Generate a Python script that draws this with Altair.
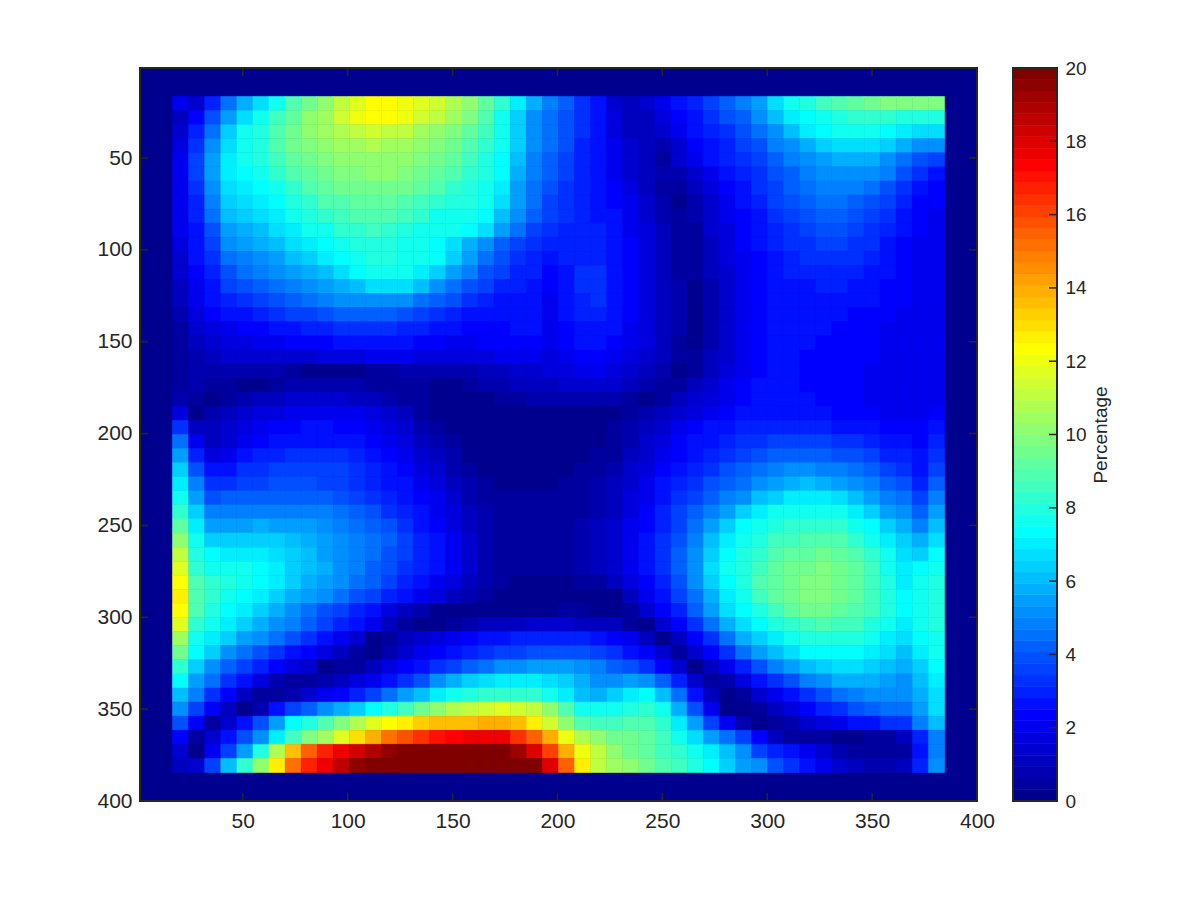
import altair as alt
import numpy as np
import pandas as pd

r00 = [2,1.5,3,4.5,5.8,6.8,7.8,8.8,9.5,10.2,11,11.6,12.2,12.3,12,11.6,11.3,10.8,10.2,9.3,8.2,7,5.7,4.8,4.2,3.4,2.5,1.5,1.1,1.4,1.9,2.5,3,3.5,4.2,4.8,5.5,6.7,7.5,8,8.5,9,9.2,9.5,9.7,9.8,9.8,9.8]
r01 = [1.2,2.4,3.8,5.5,6.8,7.6,8.5,9.3,10,10.6,11.5,12,12.4,12.3,12,11.5,11,10.6,9.8,8.8,7.8,6.5,5.2,4.6,3.9,3.2,2.5,1.7,1.1,1.2,1.6,2.3,2.8,3.3,3.8,4.3,5,6,6.9,7.4,7.8,8.1,8.3,8.4,8.3,8.1,8,8]
r02 = [1.4,2.9,4.5,6.3,7.5,8,8.8,9.5,10,10.5,10.9,11.2,11.3,11.2,11,10.6,10.3,9.8,9.3,8.6,7.7,6.4,5,4.5,3.8,3.2,2.5,1.8,1.2,1,1.4,2.1,2.6,3,3.4,3.9,4.5,5.3,6.1,6.9,7.4,7.6,7.6,7.6,7.3,6.9,6.8,6.7]
r03 = [1.8,3.3,5,6.8,7.6,8.1,8.8,9.4,9.8,10.2,10.5,10.6,10.7,10.6,10.4,10.2,9.8,9.4,8.9,8.3,7.6,6.3,5,4.4,3.8,3.1,2.5,1.9,1.4,1.1,.7,1.4,2.2,2.8,3.1,3.6,4,4.7,5.3,5.9,6.3,6.6,6.7,6.6,6.4,5.8,5.2,5]
r04 = [2,3.5,5.4,7,7.6,8,8.6,9.1,9.5,9.9,10.2,10.3,10.3,10.3,10.1,9.9,9.5,9.1,8.5,8,7.4,6.1,4.8,4.2,3.7,3.1,2.5,1.9,1.4,1.1,.6,1.3,2.1,2.6,2.9,3.3,3.7,4.3,4.8,5.3,5.6,5.8,5.9,5.8,5.3,4.6,3.9,3.6]
r05 = [2,3.5,5.5,7,7.4,7.7,8.2,8.8,9.2,9.6,9.8,9.9,10,10,9.8,9.6,9.2,8.8,8.2,7.9,7.2,5.9,4.9,4.1,3.5,3,2.5,1.9,1.5,1.2,.7,.8,1.5,2.1,2.5,2.9,3.3,3.9,4.3,4.8,5.1,5.3,5.3,5.1,4.7,3.9,3.2,2.8]
r06 = [2,3.4,5.3,6.8,7.1,7.4,7.8,8.4,8.8,9.3,9.5,9.6,9.6,9.6,9.4,9.2,8.8,8.4,8.1,7.8,6.9,5.5,4.4,3.9,3.4,3,2.6,2.2,1.8,1.2,.6,.4,1,1.7,2.2,2.7,3.2,3.7,4.1,4.5,4.7,4.8,4.7,4.5,3.9,3.2,2.6,2.3]
r07 = [2,3.1,4.8,6.4,6.8,7.1,7.4,7.9,8.4,8.8,9,9.2,9.2,9.1,9,8.7,8.4,8,7.9,7.6,6.6,5.4,4.4,3.7,3.3,3,2.7,2.3,1.9,1.3,.7,.3,.9,1.5,2,2.5,3,3.5,3.8,4.1,4.4,4.4,4.3,4,3.5,2.9,2.4,2.2]
r08 = [2,2.9,4.4,6,6.4,6.7,7,7.5,8,8.3,8.6,8.8,8.9,8.8,8.6,8.2,7.8,7.6,7.5,7.3,6.2,5,4.1,3.5,3.2,3,2.8,2.5,2,1.5,.8,.4,.7,1.4,1.9,2.4,2.8,3.3,3.6,3.9,4.1,4.1,4,3.7,3.2,2.7,2.3,2.1]
r09 = [1.9,2.8,4,5.5,5.9,6.2,6.6,7,7.5,7.8,8.2,8.4,8.5,8.4,8.1,7.7,7.5,7.5,7.4,6.6,5.6,4.6,3.7,3.3,3.1,3,2.9,2.6,2.1,1.6,1,.4,.6,1.3,1.8,2.3,2.6,3.1,3.4,3.7,3.8,3.8,3.7,3.4,2.9,2.5,2.2,2.1]
r10 = [1.7,2.7,3.6,5,5.4,5.7,6.2,6.6,7,7.4,7.7,7.9,8.1,8,7.7,7.6,7.2,6.6,5.9,5,4.3,3.7,3.3,3,3,3,3,2.7,2.2,1.7,1.1,.4,.6,1.2,1.7,2.2,2.5,2.9,3.2,3.4,3.5,3.5,3.4,3.2,2.8,2.4,2.1,2]
r11 = [1.5,2.5,3.3,4.5,4.9,5.2,5.6,6,6.5,6.9,7.2,7.6,7.9,7.9,7.8,7.6,7.2,6.3,5.4,4.6,3.9,3.4,3.1,2.6,2.9,3.1,3.1,2.8,2.3,1.8,1.2,.5,.5,1.1,1.6,2.1,2.4,2.8,3,3.2,3.3,3.3,3.2,3,2.7,2.4,2.1,2]
r12 = [1.3,2.3,3,4,4.4,4.7,5,5.4,5.9,6.2,6.6,7.2,7.6,7.6,7.5,7,6.3,5.5,4.8,4,3.5,3.1,2.9,2.4,2.8,3.2,3.2,2.8,2.3,1.8,1.2,.6,.4,1,1.5,2,2.4,2.7,2.9,3,3.1,3.1,3,2.8,2.6,2.3,2.1,2]
r13 = [1.2,2.1,2.7,3.5,3.8,4.1,4.4,4.8,5.2,5.5,5.8,6.2,6.6,6.8,6.6,6.1,5.2,4.5,3.9,3.5,3.1,2.9,2.8,2.2,2.7,3.2,3.3,2.8,2.3,1.8,1.2,.7,.3,.9,1.4,2,2.4,2.6,2.7,2.8,2.9,2.9,2.8,2.6,2.4,2.2,2.1,2]
r14 = [1,1.9,2.5,3.1,3.3,3.6,3.8,4.2,4.5,4.8,5,5.2,5.3,5.3,5,4.6,4.2,3.8,3.4,3,2.8,2.7,2.7,2.1,2.6,3.1,3.2,2.7,2.3,1.8,1.2,.7,.3,.9,1.4,1.9,2.3,2.5,2.6,2.7,2.7,2.7,2.6,2.5,2.3,2.2,2.1,2]
r15 = [.8,1.6,2.2,2.6,2.8,3,3.2,3.5,3.7,4,4.1,4.3,4.3,4.3,4,3.7,3.4,3.1,2.8,2.6,2.5,2.5,2.6,2.1,2.5,3,3,2.6,2.2,1.7,1.2,.7,.3,.9,1.4,1.9,2.3,2.5,2.5,2.6,2.6,2.5,2.4,2.3,2.2,2.1,2,2]
r16 = [.6,1.3,1.8,2.1,2.2,2.4,2.6,2.8,3,3.1,3.3,3.4,3.4,3.3,3.1,2.9,2.7,2.5,2.4,2.3,2.4,2.5,2.7,2,2.4,2.8,2.8,2.5,2.1,1.7,1.2,.7,.3,.9,1.4,1.9,2.3,2.5,2.5,2.5,2.5,2.4,2.3,2.2,2.1,2.1,2,2]
r17 = [.5,1,1.5,1.7,1.8,1.9,2.1,2.2,2.3,2.4,2.5,2.6,2.6,2.6,2.5,2.3,2.2,2.1,2.1,2.2,2.3,2.4,2.2,1.9,2.2,2.5,2.5,2.3,2,1.6,1.1,.6,.3,.9,1.4,1.9,2.3,2.5,2.5,2.5,2.4,2.4,2.3,2.2,2.1,2.1,2,2]
r18 = [.4,.8,1.1,1.3,1.3,1.4,1.5,1.5,1.5,1.6,1.7,1.8,1.9,1.9,1.9,1.8,1.7,1.6,1.6,1.8,1.9,2,1.9,1.8,2,2.2,2.2,2.1,1.8,1.4,1,.5,.4,1,1.5,2,2.3,2.5,2.5,2.4,2.4,2.3,2.3,2.2,2.1,2,2,2]
r19 = [.4,.8,.9,.9,.8,.8,.7,.5,.3,.2,.2,.2,.5,.6,.7,.7,.7,.7,.8,1,1.2,1.4,1.5,1.6,1.7,1.9,1.9,1.8,1.5,1.2,.7,.3,.6,1.2,1.7,2.1,2.4,2.5,2.5,2.4,2.3,2.3,2.2,2.1,2,2,1.9,1.9]
r20 = [.4,.7,.4,.4,.3,.3,.5,.7,.8,.8,.8,.7,.5,.4,.4,.4,.3,.3,.5,.7,.9,1,1.1,1.2,1.3,1.4,1.4,1.3,1.1,.8,.4,.4,1,1.5,1.9,2.2,2.5,2.6,2.5,2.4,2.3,2.3,2.2,2.1,2,2,1.9,1.9]
r21 = [.8,.4,.3,.6,.9,1,1.1,1.3,1.3,1.3,1.3,1.2,1,.8,.6,.4,.2,.2,.2,.3,.5,.6,.7,.7,.8,.9,.9,.8,.6,.3,.5,1,1.4,1.8,2.1,2.3,2.6,2.6,2.6,2.5,2.4,2.3,2.2,2.1,2,2,1.9,2]
r22 = [1.8,.3,.9,1,1.3,1.6,1.8,2,2,2,2,1.9,1.6,1.3,1,.6,.3,.1,.1,.1,.2,.2,.3,.3,.3,.3,.3,.3,.5,.9,1.2,1.5,1.8,2.1,2.3,2.5,2.7,2.7,2.7,2.6,2.5,2.4,2.3,2.2,2.1,2,2,2.2]
r23 = [3.2,1.2,1.1,1.3,1.7,2,2.2,2.4,2.5,2.5,2.4,2.3,2,1.7,1.3,.9,.6,.2,.1,.1,.1,.1,.1,.2,.2,.2,.3,.4,.7,1,1.5,1.9,2.2,2.5,2.7,2.9,3,3.1,3.1,3.1,3,2.8,2.7,2.5,2.3,2.2,2.2,2.6]
r24 = [4.5,2,1.2,1.5,2,2.3,2.5,2.7,2.8,2.8,2.7,2.6,2.3,2,1.6,1.2,.8,.5,.2,.1,.1,.1,.1,.1,.1,.2,.3,.5,.9,1.3,1.8,2.2,2.5,2.8,3,3.2,3.4,3.6,3.7,3.7,3.6,3.4,3.2,3,2.7,2.5,2.3,3]
r25 = [5.5,3,1.8,2,2.5,2.9,3,3.2,3.2,3.2,3.2,3,2.7,2.4,2,1.5,1.1,.7,.3,.2,.1,.1,.1,.1,.1,.2,.4,.6,1,1.5,2,2.4,2.7,3.1,3.4,3.6,3.9,4.1,4.2,4.3,4.2,4,3.8,3.5,3.1,2.9,2.5,3.3]
r26 = [6.3,3.9,2.6,2.8,3.2,3.4,3.5,3.6,3.6,3.6,3.5,3.3,3,2.7,2.3,1.8,1.4,.9,.5,.2,.2,.2,.2,.2,.3,.4,.5,.8,1.3,1.7,2.2,2.7,3,3.4,3.8,4.1,4.5,4.8,5,5,4.9,4.7,4.4,4.1,3.6,3.3,2.8,3.7]
r27 = [7,4.8,3.2,3.4,3.6,3.7,3.8,3.8,3.8,3.7,3.5,3.3,3.1,2.8,2.5,2.1,1.6,1.2,.7,.4,.3,.3,.3,.3,.4,.5,.7,1,1.5,1.9,2.5,2.9,3.3,3.8,4.3,4.6,5.2,5.6,5.9,6,5.9,5.6,5.2,4.7,4.1,3.8,3,4.2]
r28 = [7.6,5.5,4,4.1,4.2,4.3,4.3,4.3,4.3,4.2,4,3.7,3.4,3.1,2.8,2.4,1.9,1.4,.9,.6,.4,.4,.4,.4,.5,.6,.8,1.1,1.6,2.1,2.7,3.2,3.7,4.2,4.8,5.3,6,6.5,6.9,7,6.9,6.6,6.1,5.5,4.7,4.4,3.5,4.8]
r29 = [8.4,6.3,4.8,4.8,4.8,4.9,4.9,4.9,4.8,4.7,4.5,4.1,3.8,3.4,3,2.6,2.1,1.6,1,.7,.5,.4,.4,.5,.5,.6,.9,1.2,1.8,2.3,2.9,3.5,4.1,4.8,5.6,6.3,7.1,7.5,7.7,7.8,7.8,7.5,7.1,6.5,5.5,5,4.2,5.5]
r30 = [9.3,7,5.6,5.6,5.6,5.7,5.6,5.5,5.4,5.2,4.9,4.6,4.2,3.8,3.3,2.8,2.3,1.7,1.2,.8,.5,.5,.5,.5,.5,.7,1,1.3,1.9,2.4,3,3.7,4.5,5.4,6.5,7.2,7.7,8,8.2,8.4,8.4,8.2,7.8,7.3,6.3,5.7,4.9,6.2]
r31 = [10.2,7.5,6.3,6.3,6.4,6.4,6.3,6.1,5.8,5.6,5.2,4.9,4.5,4.1,3.6,3,2.5,1.9,1.3,.8,.5,.5,.5,.5,.6,.7,1,1.4,2,2.5,3.2,3.9,4.8,6,7,7.6,8.1,8.5,8.7,8.9,9,8.8,8.4,7.8,7,6.3,5.7,6.8]
r32 = [11,8,7.2,7.1,7,6.9,6.7,6.3,6,5.6,5.2,4.8,4.4,4,3.5,3,2.6,2,1.3,.9,.6,.5,.5,.5,.6,.8,1,1.5,2.1,2.6,3.3,4.1,5,6.4,7.4,7.9,8.4,8.8,9.1,9.3,9.4,9.2,8.8,8.2,7.5,6.8,6.5,7.3]
r33 = [11.8,8.4,7.8,7.7,7.5,7.3,7,6.5,6.1,5.7,5.2,4.7,4.3,3.9,3.4,2.9,2.6,2,1.3,.9,.6,.4,.4,.4,.5,.7,1,1.4,2,2.6,3.3,4.2,5.2,6.6,7.5,8.1,8.7,9.1,9.5,9.6,9.7,9.5,9.1,8.5,7.8,6.9,7.4,7.8]
r34 = [12.3,8.8,8.3,8,7.7,7.3,6.9,6.4,5.9,5.4,5,4.5,4.1,3.6,3.1,2.6,2.1,1.7,1.2,.7,.4,.3,.3,.3,.3,.4,.6,1.1,1.8,2.3,3.1,4,5,6.3,7.4,8.1,8.8,9.2,9.6,9.8,9.8,9.6,9.2,8.7,8,7.1,7.6,8]
r35 = [12.5,9,8.3,7.8,7.3,6.9,6.4,5.9,5.4,5,4.5,4,3.6,3.1,2.6,2.1,1.6,1.2,.9,.5,.2,.1,.1,.1,.1,.1,.1,.3,1.2,1.9,2.7,3.6,4.6,5.9,7,7.8,8.5,9.1,9.5,9.7,9.8,9.6,9.2,8.7,8.1,7.3,7.7,8.1]
r36 = [12.3,8.8,8.1,7.4,6.9,6.5,5.8,5,4.6,4,3.5,3,2.5,1.8,1.2,.7,.3,.2,.1,.1,.1,.1,.2,.3,.4,.4,.3,.2,.4,1.3,2.2,3,4.1,5.4,6.6,7.3,8,8.7,9.1,9.4,9.4,9.3,9,8.5,8,7.2,7.6,8.1]
r37 = [11.6,8.3,7.6,7.1,6.5,5.9,5.3,4.7,4.2,3.7,3.1,2.5,1.9,1.1,.4,.1,.3,.6,.8,1,1.1,1.2,1.3,1.3,1.3,1.2,1.1,1,.6,.3,1.4,2.4,3.3,4.6,5.8,6.7,7.3,7.9,8.4,8.7,8.8,8.7,8.5,8.1,7.6,7,7.5,8.1]
r38 = [10.5,7.7,7,6.3,5.6,5,4.4,3.8,3.3,2.7,2,1.4,.3,.5,1,1.4,1.8,2.1,2.3,2.5,2.7,2.9,3,3,3,2.9,2.7,2.3,1.9,1.2,.3,1.1,2.3,3.4,4.6,5.7,6.4,7,7.5,7.9,8.1,8,7.9,7.6,7.1,6.7,7.3,7.8]
r39 = [9.5,7.2,6.3,5.3,4.5,4,3.4,2.8,2.2,1.6,1,.4,.3,.9,1.4,1.9,2.3,2.7,3,3.2,3.5,3.7,4,4,4,3.8,3.6,3.2,2.7,2.2,1.3,.4,1.3,2.3,3.4,4.5,5.4,6,6.7,7.2,7.4,7.4,7.3,7,6.6,6.2,6.9,7.5]
r40 = [8.3,6.4,5.3,4.3,3.5,3,2.4,1.8,1.3,.3,.4,.5,1.1,1.7,2.2,2.7,3.2,3.7,4.2,4.5,5,5.3,5.5,5.5,5.4,5.2,4.8,4.3,3.8,3.2,2.4,1.4,.3,1.1,2.1,3,3.9,4.8,5.4,6.1,6.5,6.7,6.6,6.4,6,5.7,6.5,7.2]
r41 = [7.3,5.6,4.4,3.3,2.5,1.7,.9,.4,.5,.9,1.2,1.6,2,2.6,3.2,4,5,5.8,6.4,6.8,7,7.1,7,6.8,6.4,5.7,5.3,5.3,5.4,5.2,4.2,2.9,1.3,.4,.9,1.6,2.6,3.3,4,4.8,5.3,5.7,5.9,5.8,5.5,5.3,6.2,7]
r42 = [6.2,4.7,3.4,2.2,1,.4,.5,.9,1.4,1.9,2.4,2.9,3.5,4.5,5.4,6.2,6.9,7.5,7.9,8.2,8.3,8.4,8.2,7.7,7,6,5.9,6.4,7,7.4,6.2,4.5,2.8,1,.3,.6,1.3,2,2.7,3.3,3.9,4.5,4.9,5.1,5,5,5.9,6.8]
r43 = [5,3.6,2.4,1,.3,.8,2.5,3.5,4.3,5,5.7,6.5,7.3,8,8.7,9.5,10.2,10.7,11.2,11.5,11.6,11.5,11,10,9,7.8,7.6,7.8,8.1,8.3,7.5,5.9,4,2,.3,.2,.6,1.2,1.8,2.3,2.9,3.4,3.9,4.2,4.4,4.6,5.6,6.6]
r44 = [3.8,2.2,.4,1.3,2.7,4,5.6,7.2,8,9,9.8,10.8,11.8,12.4,12.8,13.2,13.5,13.6,13.7,13.8,13.8,13.6,12.8,11.5,10,8.9,8.5,8.6,8.9,8.9,8.2,7,5.4,3.5,1.9,.9,.2,.4,.9,1.3,1.8,2.1,2.5,2.8,3.2,3.4,4.8,6]
r45 = [2.4,.5,1.5,2.6,3.8,5,7,8.7,9.7,10.6,11.8,13,14,15,15.7,16.4,17,17.3,17.5,17.5,17.5,16.5,15.5,13.8,12,10.8,10,9.5,9.4,9.2,8.7,7.8,6.7,5.5,4.5,3.6,2.3,1.1,.5,.6,.5,.2,.3,.4,.5,1.2,3,4.8]
r46 = [1.5,.3,2,3.5,5.5,8,10.8,13.5,15.5,16.8,17.5,18.3,19,19.5,20,20,20,20,20,20,20,19.2,18,16,14,12,11,10,9.5,9.2,8.7,8.2,7.6,7,6,5.2,3.5,3,2.6,2,1.4,.8,.6,.5,.4,.5,2.8,4.7]
r47 = [1,1.5,3.5,6,8.2,10,12.8,15,16.7,17.7,18.7,19.5,20,20,20,20,20,20,20,20,20,20,20,18,15.5,12.6,11.2,10.5,10,9.4,9,8.5,7.9,7.3,6.5,5.5,5,4,3.4,2.6,2,1.5,1,.7,.8,1.2,3,5]

rows = [r00,r01,r02,r03,r04,r05,r06,r07,r08,r09,r10,r11,r12,r13,r14,r15,r16,r17,r18,r19,r20,r21,r22,r23,
        r24,r25,r26,r27,r28,r29,r30,r31,r32,r33,r34,r35,r36,r37,r38,r39,r40,r41,r42,r43,r44,r45,r46,r47]

axis_ticks = [50, 100, 150, 200, 250, 300, 350, 400]
bar_ticks = [0, 2, 4, 6, 8, 10, 12, 14, 16, 18, 20]
n_levels = 64

def clip(v):
    return max(0.0, min(1.0, v))

def jet(t):
    r = clip(1.5 - abs(4 * t - 3))
    g = clip(1.5 - abs(4 * t - 2))
    b = clip(1.5 - abs(4 * t - 1))
    return "#%02x%02x%02x" % (round(r * 255), round(g * 255), round(b * 255))

JET = [jet((i + 1) / n_levels) for i in range(n_levels)]

nr = len(rows)
y_edges = np.linspace(16.5, 384.5, nr + 1)
records = []
for r, row in enumerate(rows):
    x_edges = np.linspace(16.5, 384.5, len(row) + 1)
    for c, v in enumerate(row):
        records.append({"x0": x_edges[c], "x1": x_edges[c + 1], "y0": y_edges[r], "y1": y_edges[r + 1], "v": v})
cells = pd.DataFrame(records)

W, H = 837, 733
TICK = 8
INK = "#262626"
FONT = "Liberation Sans"
jet_scale = alt.Scale(type="quantize", domain=[0, 20], range=JET)
xs = alt.Scale(domain=[1, 400], nice=False, zero=False)
ys = alt.Scale(domain=[400, 1], nice=False, zero=False)

heat = alt.Chart(cells).mark_rect(strokeWidth=0.6).encode(
    x=alt.X("x0:Q", scale=xs, title=None,
            axis=alt.Axis(values=axis_ticks, grid=False, domain=False, tickSize=0, labelPadding=9,
                          labelFontSize=21, labelColor=INK, labelFont=FONT, labelFlush=False, labelOverlap=False)),
    x2="x1:Q",
    y=alt.Y("y0:Q", scale=ys, title=None,
            axis=alt.Axis(values=axis_ticks, grid=False, domain=False, tickSize=0, labelPadding=8,
                          labelFontSize=21, labelColor=INK, labelFont=FONT, labelOverlap=False, labelBaseline="middle")),
    y2="y1:Q",
    color=alt.Color("v:Q", scale=jet_scale, legend=None),
    stroke=alt.Stroke("v:Q", scale=jet_scale, legend=None),
)

tick_df = pd.DataFrame({"t": axis_ticks})
tick = alt.Chart(tick_df).mark_rule(color=INK, strokeWidth=1.5)
ticks = [
    tick.encode(x=alt.X("t:Q", scale=xs), y=alt.value(0), y2=alt.value(TICK)),
    tick.encode(x=alt.X("t:Q", scale=xs), y=alt.value(H), y2=alt.value(H - TICK)),
    tick.encode(y=alt.Y("t:Q", scale=ys), x=alt.value(0), x2=alt.value(TICK)),
    tick.encode(y=alt.Y("t:Q", scale=ys), x=alt.value(W), x2=alt.value(W - TICK)),
]

def frame(w):
    return alt.Chart(alt.Data(values=[{}])).mark_rect(filled=False, stroke=INK, strokeWidth=2).encode(
        x=alt.value(0), x2=alt.value(w), y=alt.value(0), y2=alt.value(H))

main = alt.layer(heat, *ticks, frame(W)).properties(width=W, height=H, view=alt.ViewConfig(fill=JET[0], stroke=None))

step = 20 / n_levels
bar_df = pd.DataFrame({"v0": [i * step for i in range(n_levels)], "v1": [(i + 1) * step for i in range(n_levels)],
                       "c": [(i + 0.5) * step for i in range(n_levels)]})
BW = 44
bs = alt.Scale(domain=[0, 20], nice=False, zero=False)
bar = alt.Chart(bar_df).mark_rect(strokeWidth=0.6).encode(
    x=alt.value(0), x2=alt.value(BW),
    y=alt.Y("v0:Q", scale=bs, title="Percentage",
            axis=alt.Axis(orient="right", values=bar_ticks, grid=False, domain=False, tickSize=0, labelPadding=8,
                          labelFontSize=19, labelColor=INK, labelFont=FONT, labelOverlap=False,
                          titleFontSize=19, titleColor=INK, titleFont=FONT, titleFontWeight="normal",
                          titleAngle=270, titlePadding=24)),
    y2="v1:Q",
    color=alt.Color("c:Q", scale=jet_scale, legend=None),
    stroke=alt.Stroke("c:Q", scale=jet_scale, legend=None),
)
bar_ticks_mark = alt.Chart(pd.DataFrame({"t": bar_ticks})).mark_rule(color=INK, strokeWidth=1.5).encode(
    y=alt.Y("t:Q", scale=bs), x=alt.value(BW), x2=alt.value(BW - TICK))
cbar = alt.layer(bar, bar_ticks_mark, frame(BW)).properties(width=BW, height=H, view=alt.ViewConfig(stroke=None))

chart = alt.hconcat(main, cbar, spacing=36, bounds="flush").properties(
    padding={"left": 88, "top": 51, "right": 10, "bottom": 10},
    background="white",
).resolve_scale(color="independent", stroke="independent", x="independent", y="independent")

chart.save("out.html", embed_options={"renderer": "svg", "actions": False})
